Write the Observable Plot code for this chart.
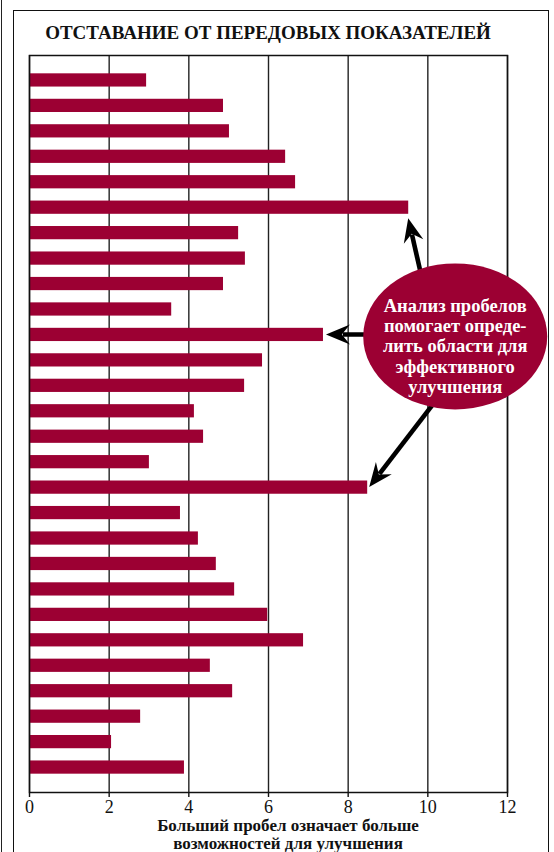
<!DOCTYPE html>
<html>
<head>
<meta charset="utf-8">
<script src="https://cdn.jsdelivr.net/npm/d3@7"></script>
<script src="https://cdn.jsdelivr.net/npm/@observablehq/plot@0.6"></script>
<style>
  html, body { margin: 0; padding: 0; background: #fff; }
  body { width: 554px; height: 852px; overflow: hidden; position: relative; font-family: "Liberation Serif", "DejaVu Serif", serif; }
  #edge { position: absolute; left: 1px; top: 0; width: 0; height: 852px; border-left: 1.2px solid #222; }
  #frame { position: absolute; left: 13px; top: 10px; width: 534px; height: 900px; border: 1.5px solid #111; }
  #title { position: absolute; left: 0px; width: 536px; top: 23px; line-height: 20px; text-align: center; font-weight: bold; font-size: 19px; color: #111; white-space: nowrap; }
  #xlabel { position: absolute; left: 118px; width: 340px; top: 817px; text-align: center; font-weight: bold; font-size: 17px; line-height: 17.5px; color: #111; }
  #chart { position: absolute; left: 0; top: 0; }
  #chart g[aria-label="x-axis tick label"] text { font-size: 18px !important; }
</style>
</head>
<body>
<div id="edge"></div>
<div id="frame"></div>
<div id="chart"></div>
<div id="title">ОТСТАВАНИЕ ОТ ПЕРЕДОВЫХ ПОКАЗАТЕЛЕЙ</div>
<div id="xlabel">Больший пробел означает больше<br>возможностей для улучшения</div>
<script>
// ---- data ----
const categories = ["1","2","3","4","5","6","7","8","9","10","11","12","13","14","15","16","17","18","19","20","21","22","23","24","25","26","27","28"];
const values = [2.94, 4.87, 5.02, 6.43, 6.68, 9.52, 5.25, 5.42, 4.87, 3.57, 7.38, 5.85, 5.40, 4.14, 4.37, 3.01, 8.49, 3.79, 4.24, 4.69, 5.15, 5.98, 6.88, 4.54, 5.10, 2.79, 2.06, 3.89];
const xTicks = [0, 2, 4, 6, 8, 10, 12];
const calloutLines = ["Анализ пробелов", "помогает опреде-", "лить области для", "эффективного", "улучшения"];
const calloutX = 10.7;        // data units
const calloutRow = "11";      // row the callout sits beside
const arrowTargets = ["6", "11", "17"];

const barColor = "#9c0033";
const data = categories.map((c, i) => ({id: c, value: values[i]}));

const chart = Plot.plot({
  width: 554,
  height: 852,
  marginTop: 55,
  marginBottom: 60,
  marginLeft: 29,
  marginRight: 47,
  style: {fontFamily: "'Liberation Serif', 'DejaVu Serif', serif", fontSize: "18px", color: "#111", background: "transparent"},
  x: {domain: [0, 12]},
  y: {domain: categories, paddingInner: 0.48, paddingOuter: 0.72, round: false, axis: null},
  marks: [
    Plot.gridX(xTicks, {stroke: "#222", strokeOpacity: 1, strokeWidth: 1.4}),
    Plot.barX(data, {x: "value", y: "id", fill: barColor}),
    Plot.frame({stroke: "#111", strokeWidth: 1.5}),
    Plot.axisX({ticks: xTicks, tickSize: 5, tickPadding: 3, label: null, tickFormat: d => String(d), strokeWidth: 1.4, fontSize: 18})
  ]
});
document.getElementById("chart").appendChild(chart);

const svg = d3.select(chart);
svg.selectAll("g[aria-label='x-axis tick label'] text").attr("font-size", 18).style("font-size", "18px");

// ---- callout annotation, positioned through the chart's scales ----
const xs = chart.scale("x"), ys = chart.scale("y");
const bw = ys.bandwidth;
const yc = id => ys.apply(id) + bw / 2;
const g = svg.append("g");

const cx = xs.apply(calloutX);
const cy = yc(calloutRow) + 2;
const rx = 92, ry = 73;

const tips = [
  {x: xs.apply(values[categories.indexOf(arrowTargets[0])]), y: yc(arrowTargets[0]) + 11},
  {x: xs.apply(values[categories.indexOf(arrowTargets[1])]) + 3, y: yc(arrowTargets[1])},
  {x: xs.apply(values[categories.indexOf(arrowTargets[2])]) + 2, y: yc(arrowTargets[2])}
];
const tails = [
  {x: cx - 20, y: cy},
  {x: cx - 20, y: cy - 2},
  {x: cx + 30, y: cy}
];
const L = 24, W = 20;
tips.forEach((t, i) => {
  const s = tails[i];
  const ang = Math.atan2(t.y - s.y, t.x - s.x);
  const deg = ang * 180 / Math.PI;
  const ex = t.x - Math.cos(ang) * L * 0.7, ey = t.y - Math.sin(ang) * L * 0.7;
  g.append("line").attr("x1", s.x).attr("y1", s.y).attr("x2", ex).attr("y2", ey)
    .attr("stroke", "#000").attr("stroke-width", 4.6);
  g.append("path")
    .attr("d", `M0,0 L${-L},${-W/2} L${-L*0.66},0 L${-L},${W/2} Z`)
    .attr("transform", `translate(${t.x},${t.y}) rotate(${deg})`)
    .attr("fill", "#000");
});

g.append("ellipse").attr("cx", cx).attr("cy", cy).attr("rx", rx).attr("ry", ry).attr("fill", barColor);
const txt = g.append("text")
  .attr("text-anchor", "middle")
  .attr("fill", "#fff")
  .attr("font-weight", "bold")
  .attr("font-size", 18.5)
  .attr("font-family", "'Liberation Serif', 'DejaVu Serif', serif");
calloutLines.forEach((line, i) => {
  txt.append("tspan").attr("x", cx).attr("y", cy + 16 + (i - 2) * 20.3).text(line);
});
</script>
</body>
</html>
